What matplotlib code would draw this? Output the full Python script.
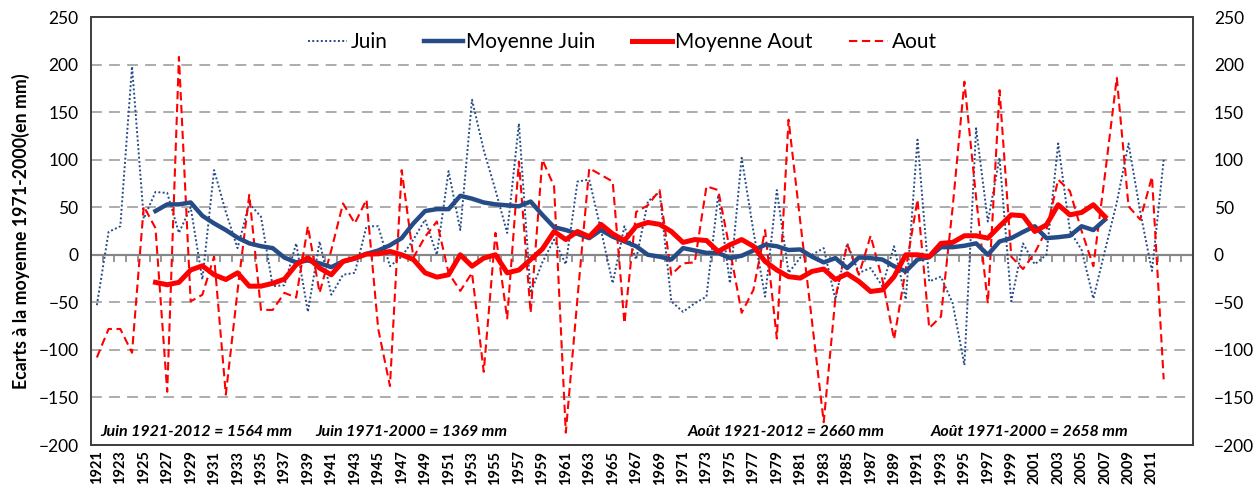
import matplotlib

matplotlib.use("Agg")
import matplotlib.pyplot as plt
import numpy as np

# Ecarts à la moyenne 1971-2000 (mm), juin et août, 1921-2012
YEARS = list(range(1921, 2013))
JUIN = [
    -53, 24, 30, 198, 38, 66, 65, 23, 50, -26,
    89, 45, 7, 54, 40, -33, -32, 12, -60, 14,
    -42, -21, -19, 30, 30, -12, -2, 16, 37, 0,
    88, 26, 163, 110, 68, 23, 138, -40, -8, 16,
    -10, 77, 79, 26, -30, 30, -5, 56, 66, -49,
    -60, -51, -44, 63, -30, 102, 25, -44, 68, -19,
    -3, 0, 7, -47, 12, -19, -14, -33, 9, -47,
    121, -28, -23, -51, -116, 133, 35, 102, -49, 12,
    -10, 0, 117, 25, 5, -46, 5, 55, 117, 45,
    -17, 100,
]
AOUT = [
    -108, -78, -78, -103, 51, 28, -144, 208, -49, -42,
    -2, -147, -38, 63, -58, -58, -40, -45, 30, -40,
    5, 54, 33, 58, -78, -138, 89, -3, 19, 35,
    -19, -38, -19, -123, 23, -67, 98, -61, 100, 72,
    -187, -45, 91, 84, 77, -72, 45, 52, 68, -21,
    -9, -8, 72, 68, 5, -61, -37, 26, -88, 142,
    35, -70, -176, -45, 11, -21, 20, -26, -89, -15,
    58, -77, -65, 50, 182, 60, -51, 173, -2, -15,
    2, 26, 79, 67, 25, -12, 85, 186, 51, 37,
    82, -131,
]

# moyennes glissantes, 1926-2007
MOY_YEARS = list(range(1926, 2008))
MOY_JUIN = [
    46, 53, 53, 55, 41, 33, 26, 18, 12, 9,
    7, -3, -8, -6, -9, -13, -7, -4, 1, 4.5,
    10, 17.5, 33, 46, 48, 48, 62, 59, 55, 53,
    52, 51, 56, 42, 29, 26, 22, 17.5, 26, 19,
    14, 9, 0, -2, -5, 7, 4.5, 2, 2, -3.5,
    -1, 4.5, 10.5, 9, 5, 5.6, -2, -8, -3.5, -14,
    -2.8, -3.5, -5, -12, -17.5, -5, -2.5, 8, 8, 9.5,
    12, 0, 14, 17.5, 24, 30, 17.5, 18.5, 20, 30,
    26, 37,
]
MOY_AOUT = [
    -29, -31.5, -29, -16, -11.6, -21, -26, -19, -33, -33,
    -30, -25.6, -10.5, -3, -14, -21, -7, -3.5, 0.7, 1,
    3.5, 0, -5, -19, -23.5, -21, 0, -12, -3.5, 0,
    -19, -16, -5, 6, 24.5, 16, 24.5, 19, 32, 22,
    15, 30, 34, 32, 24.5, 13, 16, 15, 3.5, 10.5,
    16, 9, -7, -16, -23, -24.5, -17.5, -15, -26, -20,
    -28, -38.6, -37, -23, 0, 0, -2, 12, 13, 20,
    20, 17.5, 30, 42, 41, 24.5, 31.5, 52.6, 42, 44.5,
    52.6, 40,
]

TOTAUX = [
    "Juin 1921-2012 = 1564 mm",
    "Juin 1971-2000 = 1369 mm",
    "Août 1921-2012 = 2660 mm",
    "Août 1971-2000 = 2658 mm",
]
TOTAUX_X = [1921.3, 1939.6, 1971.4, 1992.1]

BLUE = "#264C87"
RED = "#FF0000"
GRID = "#A6A6A6"
AXIS = "#868686"

plt.rcParams["font.family"] = ["Lato", "DejaVu Sans"]

W, H = 1256, 490
fig = plt.figure(figsize=(W / 100, H / 100), dpi=100)
ax = fig.add_axes([91 / W, 1 - 445 / H, (1193 - 91) / W, (445 - 17) / H])

ax.plot(YEARS, JUIN, color=BLUE, lw=1.4, ls=(0, (1, 1.2)), label="Juin", zorder=3)
ax.plot(MOY_YEARS, MOY_JUIN, color=BLUE, lw=3.2, label="Moyenne Juin",
        solid_joinstyle="round", zorder=5)
ax.plot(MOY_YEARS, MOY_AOUT, color=RED, lw=3.6, label="Moyenne Aout",
        solid_joinstyle="round", zorder=6)
ax.plot(YEARS, AOUT, color=RED, lw=1.5, ls=(0, (4, 2.2)), label="Aout", zorder=4)

ax.set_xlim(1920.5, 2014.5)
ax.set_ylim(-200, 250)
yt = list(range(-200, 251, 50))
ax.set_yticks(yt)
ax.yaxis.grid(True, color=GRID, lw=1.3, ls=(0, (6, 4)))
ax.set_axisbelow(True)
# solid horizontal axis at zero, over the dashed grid
ax.axhline(0, color=AXIS, lw=1.5, zorder=1.5)

odd = [y for y in YEARS if y % 2 == 1 and y <= 2011]
ax.set_xticks(odd, labels=[str(y) for y in odd])
ax.tick_params(axis="x", length=0, pad=4, labelrotation=90, labelsize=10.5)
for lab in ax.get_xticklabels():
    lab.set_fontweight("bold")
ax.tick_params(axis="y", length=0, pad=9, labelsize=12.5)

# mirrored value labels on the right
axr = ax.twinx()
axr.set_ylim(ax.get_ylim())
axr.set_yticks(yt)
axr.tick_params(axis="y", length=0, pad=15, labelsize=12.5)

for a in (ax, axr):
    for s in a.spines.values():
        s.set_color("#404040")
        s.set_linewidth(1.3)

# category tick marks hanging from the zero line
zero = ax.secondary_xaxis(0, transform=ax.transData)
zero.set_xticks(np.arange(1920.5, 2014.6, 1.0))
zero.tick_params(axis="x", length=5, width=1.2, color=AXIS, direction="out",
                 labelbottom=False)
zero.spines["bottom"].set_color(AXIS)
zero.spines["bottom"].set_linewidth(1.5)

ax.set_ylabel("Ecarts à la moyenne 1971-2000(en mm)", fontsize=12.8,
              fontweight="bold", labelpad=6)

for txt, x in zip(TOTAUX, TOTAUX_X):
    ax.text(x, -186, txt, fontsize=11.5, fontweight="bold", style="italic",
            ha="left", va="center", zorder=7)

ax.legend(loc="center", bbox_to_anchor=(0.482, 0.942), ncols=4, frameon=False,
          fontsize=15, handlelength=1.9, columnspacing=1.75, handletextpad=0.15)

fig.savefig("out.png", dpi=100)
